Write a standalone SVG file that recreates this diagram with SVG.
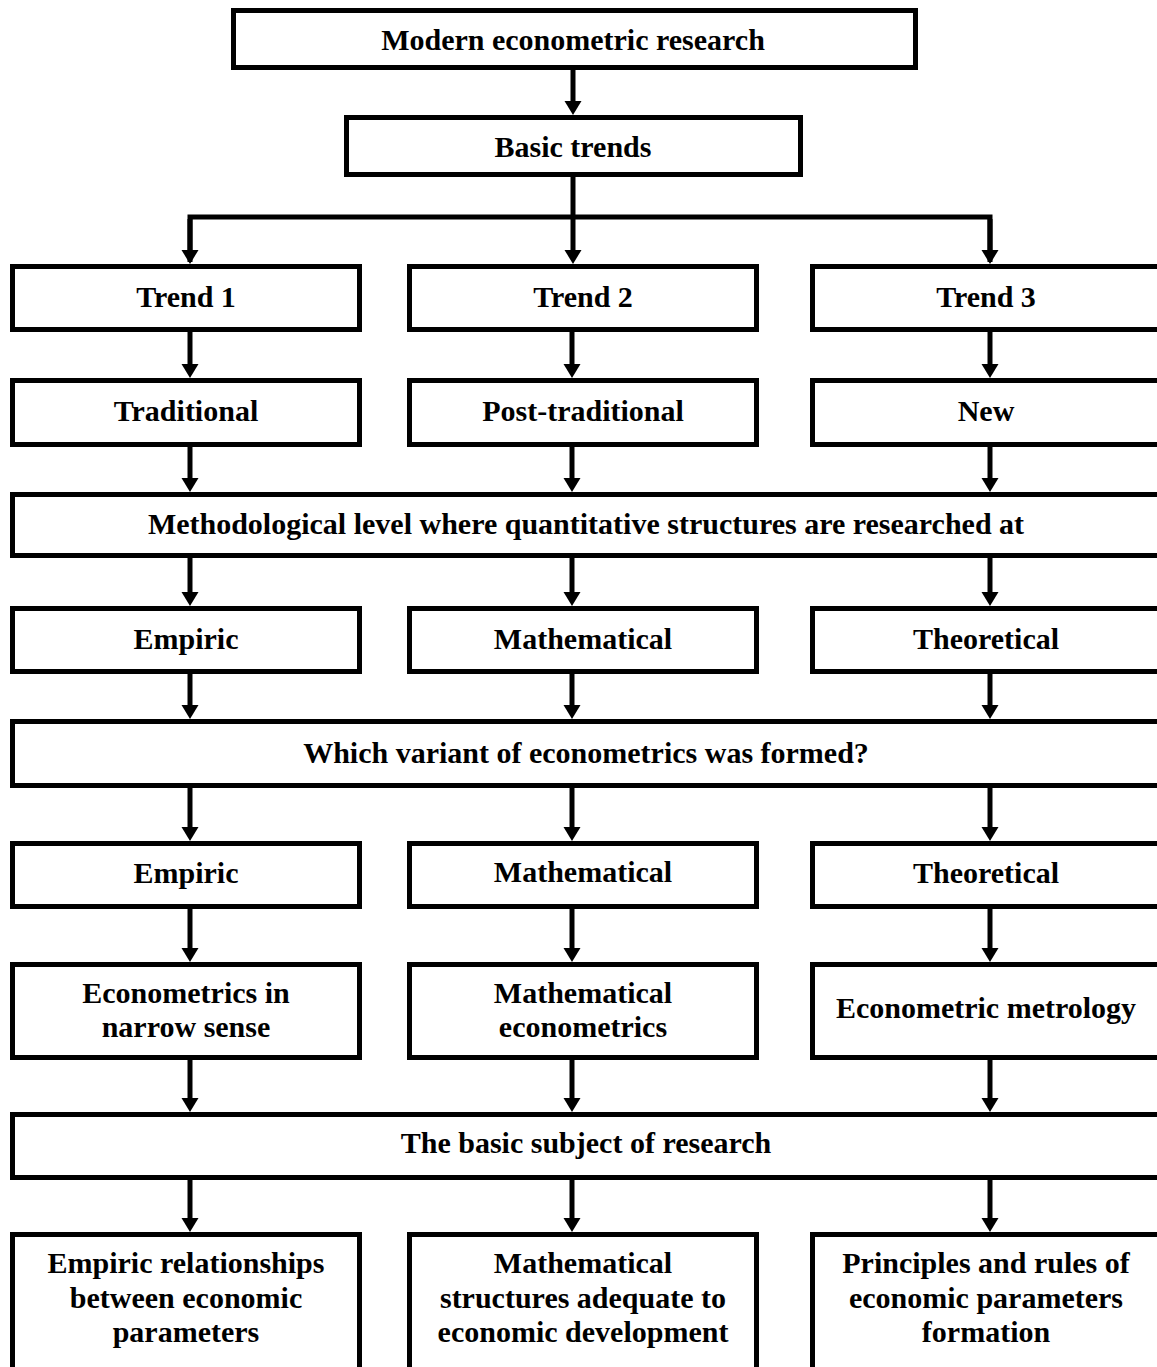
<svg xmlns="http://www.w3.org/2000/svg" width="1157" height="1367" viewBox="0 0 1157 1367">
<style>
.box{fill:#fff;stroke:#000;stroke-width:5}
.t{font-family:"Liberation Serif","Times New Roman",serif;font-weight:bold;font-size:30px;fill:#000;text-anchor:middle}
.c{fill:none;stroke:#000;stroke-width:5}
.a{fill:none;stroke:#000;stroke-width:5;marker-end:url(#ah)}
</style>
<defs>
<marker id="ah" markerUnits="userSpaceOnUse" markerWidth="14" markerHeight="17" refX="2" refY="8.5" orient="auto" overflow="visible">
<path d="M0,0 L14,8.5 L0,17 z" fill="#000"/>
</marker>
</defs>
<rect width="1157" height="1367" fill="#fff"/>
<g id="connectors">
<line class="a" x1="573" y1="70" x2="573" y2="103"/>
<polyline class="c" points="190,262 190,217 990,217 990,262"/>
<line class="a" x1="573" y1="177" x2="573" y2="252"/>
<line class="a" x1="190" y1="219" x2="190" y2="252"/>
<line class="a" x1="990" y1="219" x2="990" y2="252"/>
<line class="a" x1="190" y1="332" x2="190" y2="366"/>
<line class="a" x1="572" y1="332" x2="572" y2="366"/>
<line class="a" x1="990" y1="332" x2="990" y2="366"/>
<line class="a" x1="190" y1="447" x2="190" y2="480"/>
<line class="a" x1="572" y1="447" x2="572" y2="480"/>
<line class="a" x1="990" y1="447" x2="990" y2="480"/>
<line class="a" x1="190" y1="558" x2="190" y2="594"/>
<line class="a" x1="572" y1="558" x2="572" y2="594"/>
<line class="a" x1="990" y1="558" x2="990" y2="594"/>
<line class="a" x1="190" y1="674" x2="190" y2="707"/>
<line class="a" x1="572" y1="674" x2="572" y2="707"/>
<line class="a" x1="990" y1="674" x2="990" y2="707"/>
<line class="a" x1="190" y1="788" x2="190" y2="829"/>
<line class="a" x1="572" y1="788" x2="572" y2="829"/>
<line class="a" x1="990" y1="788" x2="990" y2="829"/>
<line class="a" x1="190" y1="909" x2="190" y2="950"/>
<line class="a" x1="572" y1="909" x2="572" y2="950"/>
<line class="a" x1="990" y1="909" x2="990" y2="950"/>
<line class="a" x1="190" y1="1059" x2="190" y2="1100"/>
<line class="a" x1="572" y1="1059" x2="572" y2="1100"/>
<line class="a" x1="990" y1="1059" x2="990" y2="1100"/>
<line class="a" x1="190" y1="1180" x2="190" y2="1220"/>
<line class="a" x1="572" y1="1180" x2="572" y2="1220"/>
<line class="a" x1="990" y1="1180" x2="990" y2="1220"/>
</g>
<g id="n-modern"><rect class="box" x="233.5" y="10.5" width="682" height="57"/><text class="t" x="573" y="50">Modern econometric research</text></g>
<g id="n-basic-trends"><rect class="box" x="346.5" y="117.5" width="454" height="57"/><text class="t" x="573" y="157">Basic trends</text></g>
<g id="n-trend1"><rect class="box" x="12.5" y="266.5" width="347" height="63"/><text class="t" x="186" y="307">Trend 1</text></g>
<g id="n-trend2"><rect class="box" x="409.5" y="266.5" width="347" height="63"/><text class="t" x="583" y="307">Trend 2</text></g>
<g id="n-trend3"><rect class="box" x="812.5" y="266.5" width="347" height="63"/><text class="t" x="986" y="307">Trend 3</text></g>
<g id="n-traditional"><rect class="box" x="12.5" y="380.5" width="347" height="64"/><text class="t" x="186" y="421">Traditional</text></g>
<g id="n-posttraditional"><rect class="box" x="409.5" y="380.5" width="347" height="64"/><text class="t" x="583" y="421">Post-traditional</text></g>
<g id="n-new"><rect class="box" x="812.5" y="380.5" width="347" height="64"/><text class="t" x="986" y="421">New</text></g>
<g id="n-methodological"><rect class="box" x="12.5" y="494.5" width="1147" height="61"/><text class="t" x="586" y="534">Methodological level where quantitative structures are researched at</text></g>
<g id="n-empiric1"><rect class="box" x="12.5" y="608.5" width="347" height="63"/><text class="t" x="186" y="649">Empiric</text></g>
<g id="n-math1"><rect class="box" x="409.5" y="608.5" width="347" height="63"/><text class="t" x="583" y="649">Mathematical</text></g>
<g id="n-theor1"><rect class="box" x="812.5" y="608.5" width="347" height="63"/><text class="t" x="986" y="649">Theoretical</text></g>
<g id="n-which"><rect class="box" x="12.5" y="721.5" width="1147" height="64"/><text class="t" x="586" y="763">Which variant of econometrics was formed?</text></g>
<g id="n-empiric2"><rect class="box" x="12.5" y="843.5" width="347" height="63"/><text class="t" x="186" y="883">Empiric</text></g>
<g id="n-math2"><rect class="box" x="409.5" y="843.5" width="347" height="63"/><text class="t" x="583" y="882">Mathematical</text></g>
<g id="n-theor2"><rect class="box" x="812.5" y="843.5" width="347" height="63"/><text class="t" x="986" y="883">Theoretical</text></g>
<g id="n-narrow"><rect class="box" x="12.5" y="964.5" width="347" height="93"/><text class="t" x="186" y="1003">Econometrics in</text><text class="t" x="186" y="1037">narrow sense</text></g>
<g id="n-matheco"><rect class="box" x="409.5" y="964.5" width="347" height="93"/><text class="t" x="583" y="1003">Mathematical</text><text class="t" x="583" y="1037">econometrics</text></g>
<g id="n-metrology"><rect class="box" x="812.5" y="964.5" width="347" height="93"/><text class="t" x="986" y="1018">Econometric metrology</text></g>
<g id="n-subject"><rect class="box" x="12.5" y="1114.5" width="1147" height="63"/><text class="t" x="586" y="1153">The basic subject of research</text></g>
<g id="n-empiric-rel"><rect class="box" x="12.5" y="1234.5" width="347" height="200"/><text class="t" x="186" y="1273">Empiric relationships</text><text class="t" x="186" y="1308">between economic</text><text class="t" x="186" y="1342">parameters</text></g>
<g id="n-math-struct"><rect class="box" x="409.5" y="1234.5" width="347" height="200"/><text class="t" x="583" y="1273">Mathematical</text><text class="t" x="583" y="1308">structures adequate to</text><text class="t" x="583" y="1342">economic development</text></g>
<g id="n-principles"><rect class="box" x="812.5" y="1234.5" width="347" height="200"/><text class="t" x="986" y="1273">Principles and rules of</text><text class="t" x="986" y="1308">economic parameters</text><text class="t" x="986" y="1342">formation</text></g>
</svg>
